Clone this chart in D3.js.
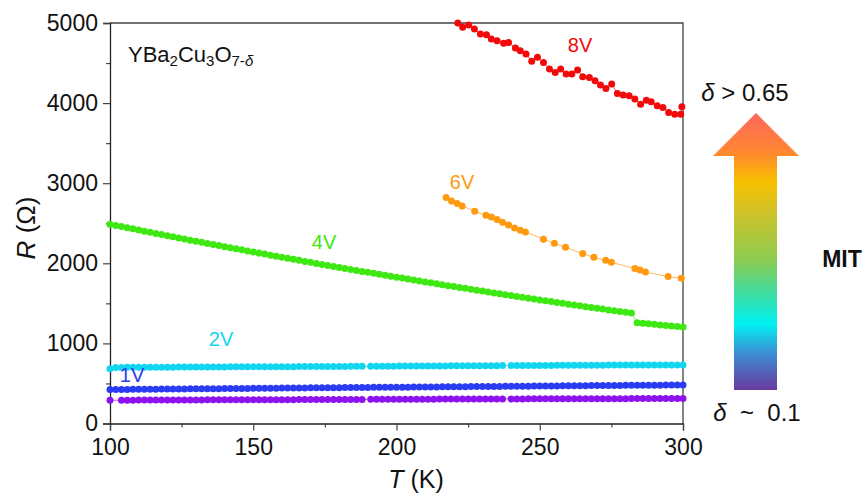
<!DOCTYPE html>
<html>
<head>
<meta charset="utf-8">
<script src="https://cdn.jsdelivr.net/npm/d3@7/dist/d3.min.js"></script>
<style>
  body { margin: 0; background: #fff; }
  text { font-family: "Liberation Sans", Arial, sans-serif; }
</style>
</head>
<body>
<svg width="868" height="493"></svg>
<script>
// temperatures (K) for the dense sweeps
const tDense = [
  100,102,104,106,108,110,112,114,116,118,
  120,122,124,126,128,130,132,134,136,138,
  140,142,144,146,148,150,152,154,156,158,
  160,162,164,166,168,170,172,174,176,178,
  180,182,184,186,188,190,192,194,196,198,
  200,202,204,206,208,210,212,214,216,218,
  220,222,224,226,228,230,232,234,236,238,
  240,242,244,246,248,250,252,254,256,258,
  260,262,264,266,268,270,272,274,276,278,
  280,282,284,286,288,290,292,294,296,298,
  300]
const tCyan = [
  100,102,104,106,108,110,112,114,116,118,
  120,122,124,126,128,130,132,134,136,138,
  140,142,144,146,148,150,152,154,156,158,
  160,162,164,166,168,170,172,174,176,178,
  180,182,184,186,188,191,193,195,197,199,
  201,203,205,207,209,211,213,215,217,219,
  221,223,225,227,229,231,233,235,237,240,
  242,244,246,248,250,252,254,256,258,260,
  262,264,266,268,270,272,274,276,278,280,
  282,284,286,288,290,292,294,296,298,300]
const tPurple = [
  100,104,106,108,110,112,114,116,118,120,
  122,124,126,128,130,132,134,136,138,140,
  142,144,146,148,150,152,154,156,158,160,
  162,164,166,168,170,172,174,176,178,180,
  182,184,186,188,191,193,195,197,199,201,
  203,205,207,209,211,213,215,217,219,221,
  223,225,227,229,231,233,235,237,240,242,
  244,246,248,250,252,254,256,258,260,262,
  264,266,268,270,272,274,276,278,280,282,
  284,286,288,290,292,294,296,298,300]

// resistances (ohm)
const rPurple = [
  290,291,291,291,292,292,292,292,293,293,
  293,293,294,294,294,294,295,295,295,295,
  296,296,296,296,297,297,297,297,298,298,
  298,298,299,299,299,299,300,300,300,300,
  301,301,301,301,302,302,302,302,303,303,
  303,303,304,304,304,304,305,305,305,305,
  305,306,306,306,306,306,307,307,307,307,
  307,308,308,308,308,308,308,309,309,309,
  309,309,309,310,310,310,310,310,310,311,
  311,311,311,311,311,311,311,312,312]
const r1V = [
  425,425,426,426,427,428,428,429,429,430,
  430,431,431,432,433,433,434,434,435,435,
  436,437,437,438,438,439,439,440,441,441,
  442,442,443,443,444,445,445,446,446,447,
  447,448,449,449,450,450,451,451,452,453,
  453,454,454,455,455,456,457,457,458,458,
  459,459,460,461,461,462,462,463,463,464,
  465,465,466,466,467,467,468,469,469,470,
  470,471,471,472,473,473,474,474,475,475,
  476,477,477,478,478,479,479,480,480,481,
  481]
const r2V = [
  684,700,700,701,701,701,702,702,702,703,
  703,703,704,704,704,705,705,705,706,706,
  706,707,707,707,708,708,708,709,709,709,
  710,710,710,711,711,711,712,712,712,713,
  713,713,714,714,714,715,715,716,716,716,
  717,717,717,718,718,718,719,719,719,720,
  720,720,721,721,721,722,722,722,723,723,
  723,724,724,724,725,725,725,726,726,726,
  727,727,727,728,728,728,729,729,729,730,
  730,730,730,730,731,731,731,731,731,731]
const r4V = [
  2487,2473,2458,2444,2430,2415,2401,2387,2373,2359,
  2345,2331,2317,2303,2289,2276,2262,2248,2235,2221,
  2208,2194,2181,2168,2154,2141,2128,2115,2102,2089,
  2076,2063,2050,2037,2024,2012,1999,1986,1974,1961,
  1949,1936,1924,1911,1899,1887,1875,1863,1851,1838,
  1826,1815,1803,1791,1779,1767,1756,1744,1732,1721,
  1709,1698,1687,1675,1664,1653,1642,1630,1619,1608,
  1597,1586,1575,1565,1554,1543,1532,1522,1511,1501,
  1490,1480,1469,1459,1449,1439,1428,1418,1408,1398,
  1388,1378,1259,1252,1245,1238,1231,1224,1217,1210,
  1204]
const t6V = [217.3,219.2,221.2,222.9,227.3,231.2,233.1,235.1,237.0,239.1,241.2,243.2,245.0,
  251.3,255.1,259.0,265.0,268.9,273.0,275.0,283.2,285.0,286.9,294.8,299.4]
const r6V = [2821,2779,2746,2716,2650,2600,2579,2546,2512,2479,2441,2412,2391,
  2300,2250,2200,2121,2075,2037,2012,1934,1916,1891,1834,1812]
const t8V = [221.4,223.1,225.2,227.2,229.3,231.4,233.1,235.1,237.4,239.1,241.5,243.2,245.2,247.2,
  249.2,251.3,253.4,255.4,257.3,259.2,261.2,263.2,265.0,267.3,269.3,271.2,273.1,275.1,277.1,
  279.1,281.2,283.2,285.2,287.2,288.9,291.0,293.0,295.0,297.1,299.2,299.6]
const r8V = [5000,4946,4975,4925,4862,4854,4800,4779,4746,4758,4687,4654,4612,4521,
  4571,4508,4425,4383,4425,4362,4362,4412,4329,4321,4279,4225,4183,4237,4121,
  4100,4091,4050,3987,4037,4016,3966,3946,3883,3862,3862,3954]

const xTicks = [100,150,200,250,300]
const xMinor = [125,175,225,275]
const yTicks = [0,1000,2000,3000,4000,5000]
const yMinor = [500,1500,2500,3500,4500]

const series = [
  {name:'', t:tPurple, r:rPurple, color:'#8c12ee'},
  {name:'1V', t:tDense, r:r1V, color:'#2a3cf2'},
  {name:'2V', t:tCyan, r:r2V, color:'#12d6f0'},
  {name:'4V', t:tDense, r:r4V, color:'#3ee812'},
  {name:'6V', t:t6V, r:r6V, color:'#ff9a10'},
  {name:'8V', t:t8V, r:r8V, color:'#f20a0a'}
]

const svg = d3.select("svg")
const margin = {top:23, right:185, bottom:69.5, left:110}
const width = +svg.attr("width")
const height = +svg.attr("height")

const xScale = d3.scaleLinear().domain([100,300]).range([margin.left, width-margin.right])
const yScale = d3.scaleLinear().domain([0,5000]).range([height-margin.bottom, margin.top])

// frame (top + right)
svg.append('path')
  .attr('d', `M${xScale(100)},${yScale(5000)}H${xScale(300)}V${yScale(0)}`)
  .attr('fill','none').attr('stroke','#444').attr('stroke-width',1.3)

// axes
svg.append('g')
  .attr('transform', `translate(0,${yScale(0)})`)
  .call(d3.axisBottom(xScale).tickValues(xTicks).tickSize(7).tickPadding(8).tickFormat(d3.format('d')))
svg.append('g')
  .attr('transform', `translate(0,${yScale(0)})`)
  .call(d3.axisBottom(xScale).tickValues(xMinor).tickSize(4).tickFormat(''))
  .select('.domain').remove()
svg.append('g')
  .attr('transform', `translate(${xScale(100)},0)`)
  .call(d3.axisLeft(yScale).tickValues(yTicks).tickSize(7).tickPadding(5).tickFormat(d3.format('d')))
svg.append('g')
  .attr('transform', `translate(${xScale(100)},0)`)
  .call(d3.axisLeft(yScale).tickValues(yMinor).tickSize(4).tickFormat(''))
  .select('.domain').remove()

svg.selectAll('.tick text')
  .style('font-size','23px').attr('fill','#111')
  .style('font-family','"Liberation Sans", Arial, sans-serif')
svg.selectAll('.domain').attr('stroke','#222').attr('stroke-width',1.3)
svg.selectAll('.tick line').attr('stroke','#444').attr('stroke-width',1.2)

// axis titles
svg.append('text')
  .attr('x', 416).attr('y', 488)
  .attr('text-anchor','middle').style('font-size','25px').attr('fill','#111')
  .html('<tspan font-style="italic">T</tspan> (K)')
svg.append('text')
  .attr('transform', `translate(35,228) rotate(-90)`)
  .attr('text-anchor','middle').style('font-size','26px').attr('fill','#111')
  .html('<tspan font-style="italic">R</tspan> (Ω)')

// data
const line = d3.line().x(d => xScale(d[0])).y(d => yScale(d[1]))
series.forEach(s => {
  const pts = s.t.map((t,i) => [t, s.r[i]])
  svg.append('path').datum(pts)
    .attr('d', line)
    .attr('fill','none')
    .attr('stroke', s.color)
    .attr('stroke-opacity', 0.7)
    .attr('stroke-width', 1)
  svg.append('g').selectAll('circle').data(pts)
    .enter().append('circle')
    .attr('cx', d => xScale(d[0]))
    .attr('cy', d => yScale(d[1]))
    .attr('r', 3.5)
    .attr('fill', s.color)
})

// series labels
const labelPos = {'1V':[132,382], '2V':[221,346], '4V':[324,249], '6V':[462,189], '8V':[580,52]}
series.filter(s => s.name).forEach(s => {
  svg.append('text')
    .attr('x', labelPos[s.name][0]).attr('y', labelPos[s.name][1])
    .attr('text-anchor','middle')
    .style('font-size','20px')
    .attr('fill', s.color)
    .text(s.name)
})

// compound label
svg.append('text')
  .attr('x', 128).attr('y', 62)
  .style('font-size','22px').attr('fill','#111')
  .html('YBa<tspan baseline-shift="-28%" font-size="15px">2</tspan>Cu<tspan baseline-shift="-28%" font-size="15px">3</tspan>O<tspan baseline-shift="-28%" font-size="15px">7-<tspan font-style="italic">δ</tspan></tspan>')

// gradient arrow
const grad = svg.append('defs').append('linearGradient')
  .attr('id','mit').attr('x1',0).attr('y1',1).attr('x2',0).attr('y2',0)
const stops = [
  [0,'#6a3a9e'],[0.13,'#3c8cd2'],[0.24,'#00f2f2'],[0.35,'#40dca0'],
  [0.47,'#8ccc50'],[0.65,'#d2c226'],[0.75,'#f7c100'],[0.85,'#ff8a2c'],[1,'#ff6660']
]
grad.selectAll('stop').data(stops).enter().append('stop')
  .attr('offset', d => d[0]).attr('stop-color', d => d[1])
svg.append('path')
  .attr('d','M734,390 V156 H713 L756,113 L799,156 H777 V390 Z')
  .attr('fill','url(#mit)')

svg.append('text').attr('x',745).attr('y',101)
  .attr('text-anchor','middle').style('font-size','24px').style('white-space','pre').attr('fill','#111')
  .html('<tspan font-style="italic">δ</tspan> &gt; 0.65')
svg.append('text').attr('x',757).attr('y',421)
  .attr('text-anchor','middle').style('font-size','24px').style('white-space','pre').attr('fill','#111')
  .html('<tspan font-style="italic">δ</tspan>  ~  0.1')
svg.append('text').attr('x',842).attr('y',267)
  .attr('text-anchor','middle').style('font-size','23px').style('font-weight','bold').attr('fill','#111')
  .text('MIT')
</script>
</body>
</html>
